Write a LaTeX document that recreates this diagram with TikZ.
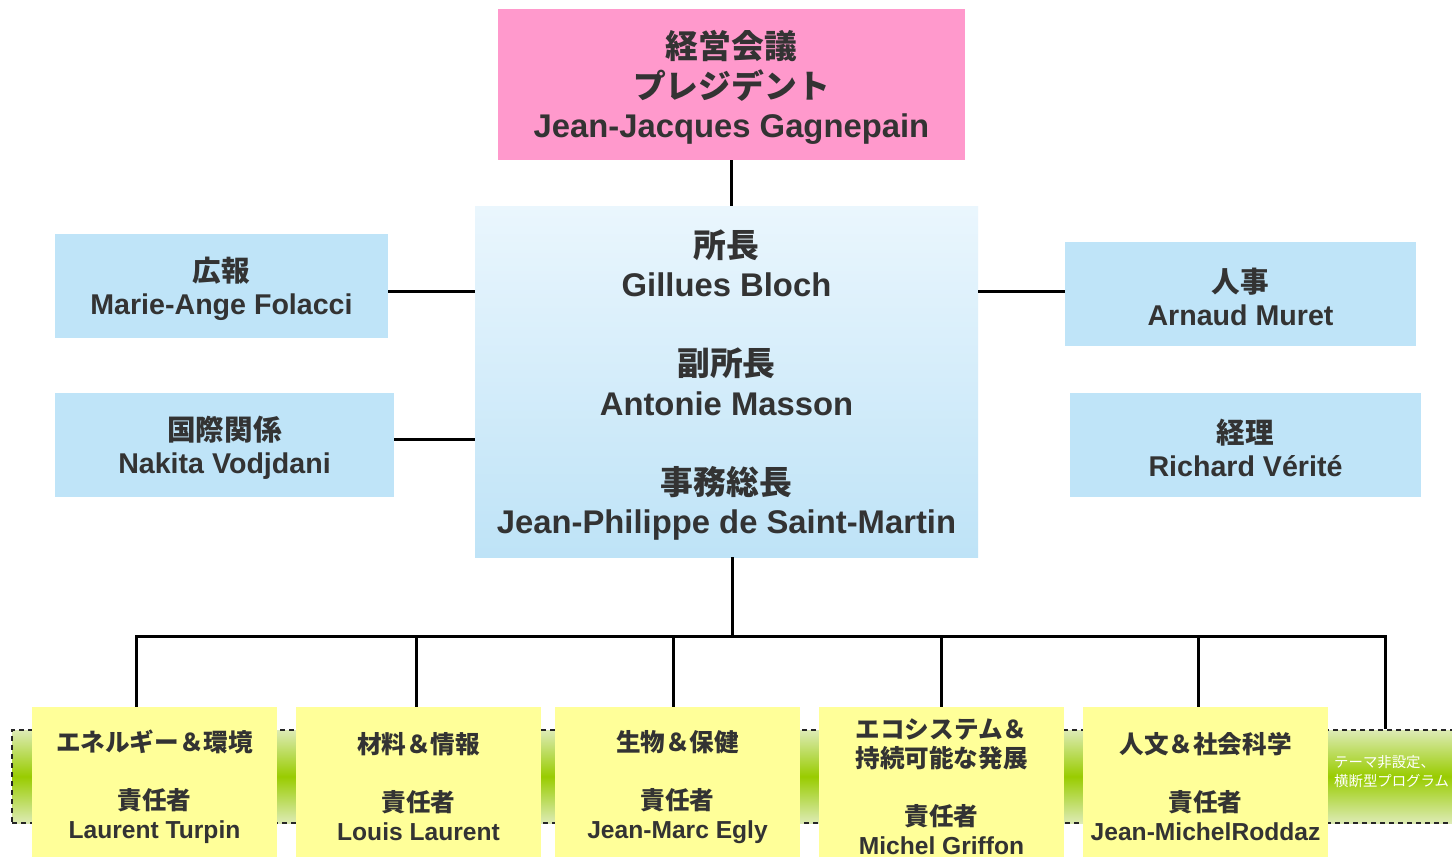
\documentclass[tikz,border=0pt]{standalone}
\usepackage{fontspec}
\setmainfont{Liberation Sans}
\newfontfamily\cjk{Noto Sans CJK JP}
\newcommand\jp[1]{{\cjk\bfseries #1}}
\definecolor{txt}{HTML}{333333}
\definecolor{pink}{HTML}{FF99CC}
\definecolor{sideblue}{HTML}{BFE4F8}
\definecolor{toplb}{HTML}{EAF6FD}
\definecolor{botlb}{HTML}{BEE3F7}
\definecolor{yel}{HTML}{FFFF99}
\definecolor{lgreen}{HTML}{DDEBB5}
\definecolor{green}{HTML}{99CC00}
\begin{document}
\begin{tikzpicture}[x=1pt,y=-1pt,
  box/.style={inner sep=0pt},
  lbl/.style={inner sep=0pt, align=center, text=txt},
  bigtxt/.style={lbl, font=\bfseries\fontsize{32.8}{39.5}\selectfont},
  sidetxt/.style={lbl, font=\bfseries\fontsize{28.6}{33}\selectfont},
  bottxt/.style={lbl, font=\bfseries\fontsize{24.6}{29}\selectfont},
  sidebox/.style={box, fill=sideblue, minimum width=#1, minimum height=104pt},
  unitbox/.style={box, fill=yel, minimum width=245pt, minimum height=156pt},
  conn/.style={line width=3pt, black}
]
\useasboundingbox[fill=white] (0,0) rectangle (1452,857);

% green band
\node[draw=black!85, dash pattern=on 5pt off 4pt, line width=1.6pt, inner sep=0pt,
      minimum width=1458pt, minimum height=93pt,
      top color=lgreen, bottom color=lgreen, middle color=green] (band) at (741,776.5) {};
\node[anchor=west, text=white, align=left, inner sep=0pt,
      font=\cjk\fontsize{14.4}{19}\selectfont] (cross) at (1334,772) {テーマ非設定、\\横断型プログラム};

% top
\node[box, fill=pink, minimum width=467pt, minimum height=151pt] (pres) at (731.5,84.5) {};
\node[bigtxt] (pres-t) at (731.5,87.5) {\jp{経営会議}\\\jp{プレジデント}\\Jean-Jacques Gagnepain};

\node[box, top color=toplb, bottom color=botlb, minimum width=503pt, minimum height=351pt] (cen) at (726.5,381.5) {};
\node[bigtxt] (cen-t) at (726.5,385)
  {\jp{所長}\\Gillues Bloch\\[39.5pt]\jp{副所長}\\Antonie Masson\\[39.5pt]\jp{事務総長}\\Jean-Philippe de Saint-Martin};

\node[sidebox=333pt] (pr) at (221.5,286) {};
\node[sidetxt] (pr-t) at (221.5,289) {\jp{広報}\\Marie-Ange Folacci};
\node[sidebox=339pt] (intl) at (224.5,445) {};
\node[sidetxt] (intl-t) at (224.5,448) {\jp{国際関係}\\Nakita Vodjdani};
\node[sidebox=351pt] (hr) at (1240.5,294) {};
\node[sidetxt] (hr-t) at (1240.5,297) {\jp{人事}\\Arnaud Muret};
\node[sidebox=351pt] (acc) at (1245.5,445) {};
\node[sidetxt] (acc-t) at (1245.5,448) {\jp{経理}\\Richard Vérité};

% units
\node[unitbox] (u1) at (154.5,785) {};
\node[bottxt] (u1-t) at (154.5,787) {\jp{エネルギー＆環境}\\[29pt]\jp{責任者}\\Laurent Turpin};
\node[unitbox] (u2) at (418.5,785) {};
\node[bottxt] (u2-t) at (418.5,787) {\jp{材料＆情報}\\[29pt]\jp{責任者}\\Louis Laurent};
\node[unitbox] (u3) at (677.5,785) {};
\node[bottxt] (u3-t) at (677.5,787) {\jp{生物＆保健}\\[29pt]\jp{責任者}\\Jean-Marc Egly};
\node[unitbox] (u4) at (941.5,785) {};
\node[bottxt] (u4-t) at (941.5,786.5) {\jp{エコシステム＆}\\\jp{持続可能な発展}\\[29pt]\jp{責任者}\\Michel Griffon};
\node[unitbox] (u5) at (1205.5,785) {};
\node[bottxt] (u5-t) at (1205.5,787) {\jp{人文＆社会科学}\\[29pt]\jp{責任者}\\Jean-MichelRoddaz};

% connectors
\coordinate (prc) at ([yshift=-5pt]pr.east);
\coordinate (intlc) at ([yshift=6pt]intl.east);
\coordinate (hrc) at ([yshift=3pt]hr.west);
\draw[conn] (pres.south) -- (pres.south |- cen.north);
\draw[conn] (prc) -- (cen.west |- prc);
\draw[conn] (intlc) -- (cen.west |- intlc);
\draw[conn] (hrc) -- (cen.east |- hrc);

\coordinate (hub) at (732,636);
\coordinate (b1) at (136,636);
\coordinate (b2) at (416,636);
\coordinate (b3) at (673,636);
\coordinate (b4) at (941,636);
\coordinate (b5) at (1198,636);
\coordinate (b6) at (1385,636);
\draw[conn] (hub |- cen.south) -- (hub);
\draw[conn, line join=miter] (b1 |- u1.north) -- (b1) -- (b6) -- (b6 |- band.north);
\draw[conn] (b2) -- (b2 |- u2.north);
\draw[conn] (b3) -- (b3 |- u3.north);
\draw[conn] (b4) -- (b4 |- u4.north);
\draw[conn] (b5) -- (b5 |- u5.north);
\end{tikzpicture}
\end{document}
